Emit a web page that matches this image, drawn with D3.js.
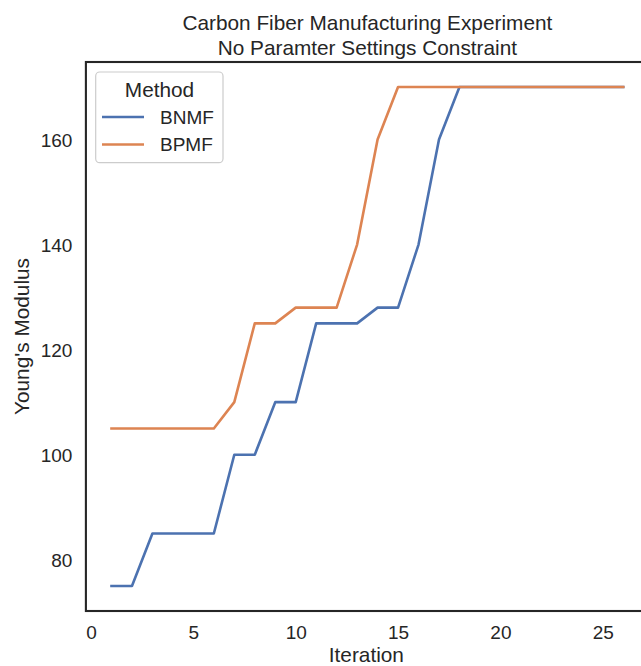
<!DOCTYPE html>
<html>
<head>
<meta charset="utf-8">
<script src="https://cdn.jsdelivr.net/npm/d3@7"></script>
<style>
  html, body { margin: 0; padding: 0; background: #ffffff; }
  svg { display: block; }
  text { font-family: "Liberation Sans", Arial, sans-serif; fill: #262626; }
</style>
</head>
<body>
<svg id="chart" width="641" height="666"></svg>
<script>
const iterations = [1,2,3,4,5,6,7,8,9,10,11,12,13,14,15,16,17,18,19,20,21,22,23,24,25,26];
const bnmf = [75,75,85,85,85,85,100,100,110,110,125,125,125,128,128,140,160,170,170,170,170,170,170,170,170,170];
const bpmf = [105,105,105,105,105,105,110,125,125,128,128,128,140,160,170,170,170,170,170,170,170,170,170,170,170,170];
const seriesNames = ["BNMF", "BPMF"];
const seriesColors = ["#4c72b0", "#dd8452"];
const xTicks = [0, 5, 10, 15, 20, 25];
const yTicks = [80, 100, 120, 140, 160];
const titleLines = ["Carbon Fiber Manufacturing Experiment", "No Paramter Settings Constraint"];
const xLabel = "Iteration";
const yLabel = "Young's Modulus";
const legendTitle = "Method";

(function () {
const svg = d3.select("#chart");
const pl = 85.9, pr = 648.8, pt = 62, pb = 611;

const x = d3.scaleLinear().domain([-0.25, 27.25]).range([pl, pr]);
const y = d3.scaleLinear().domain([70.25, 174.75]).range([pb, pt]);

// lines
const series = [bnmf, bpmf];
const line = d3.line().x((d, i) => x(iterations[i])).y(d => y(d));
series.forEach((s, k) => {
  svg.append("path")
    .datum(s)
    .attr("d", line)
    .attr("fill", "none")
    .attr("stroke", seriesColors[k])
    .attr("stroke-width", 2.6)
    .attr("stroke-linejoin", "round")
    .attr("stroke-linecap", "square");
});

// spines
svg.append("rect")
  .attr("x", pl).attr("y", pt)
  .attr("width", pr - pl).attr("height", pb - pt)
  .attr("fill", "none").attr("stroke", "#262626").attr("stroke-width", 2.1);

// x axis tick labels
const xAxis = d3.axisBottom(x).tickValues(xTicks).tickSize(0).tickPadding(0).tickFormat(d3.format("d"));
const gx = svg.append("g").attr("transform", `translate(0,${pb})`).call(xAxis);
gx.select(".domain").remove();
gx.selectAll("text").attr("dy", null).attr("y", 28).attr("font-size", 19)
  .style("font-family", '"Liberation Sans", Arial, sans-serif').attr("fill", "#262626");

// y axis tick labels
const yAxis = d3.axisLeft(y).tickValues(yTicks).tickSize(0).tickPadding(0).tickFormat(d3.format("d"));
const gy = svg.append("g").attr("transform", `translate(${pl},0)`).call(yAxis);
gy.select(".domain").remove();
gy.selectAll("text").attr("x", -13.5).attr("dy", "0.35em").attr("font-size", 19)
  .style("font-family", '"Liberation Sans", Arial, sans-serif').attr("fill", "#262626");

// axis labels
svg.append("text").attr("x", (pl + pr) / 2 - 1).attr("y", 662)
  .attr("text-anchor", "middle").attr("font-size", 20.8).text(xLabel);
svg.append("text")
  .attr("transform", `translate(29,${(pt + pb) / 2}) rotate(-90)`)
  .attr("text-anchor", "middle").attr("font-size", 20.8).text(yLabel);

// title
titleLines.forEach((t, i) => {
  svg.append("text").attr("x", (pl + pr) / 2).attr("y", 30 + i * 24.5)
    .attr("text-anchor", "middle").attr("font-size", 20.8).text(t);
});

// legend
const lg = svg.append("g");
lg.append("rect").attr("x", 95.7).attr("y", 72).attr("width", 127.3).attr("height", 90.7)
  .attr("rx", 4).attr("fill", "#ffffff").attr("fill-opacity", 0.8)
  .attr("stroke", "#cccccc").attr("stroke-width", 1.2);
lg.append("text").attr("x", 159.5).attr("y", 96.5).attr("text-anchor", "middle")
  .attr("font-size", 20.8).text(legendTitle);
seriesNames.forEach((name, i) => {
  const yy = 117 + i * 27.5;
  lg.append("line").attr("x1", 102).attr("x2", 144).attr("y1", yy).attr("y2", yy)
    .attr("stroke", seriesColors[i]).attr("stroke-width", 2.6);
  lg.append("text").attr("x", 160).attr("y", yy + 6.8).attr("font-size", 19).text(name);
});
})();
</script>
</body>
</html>
